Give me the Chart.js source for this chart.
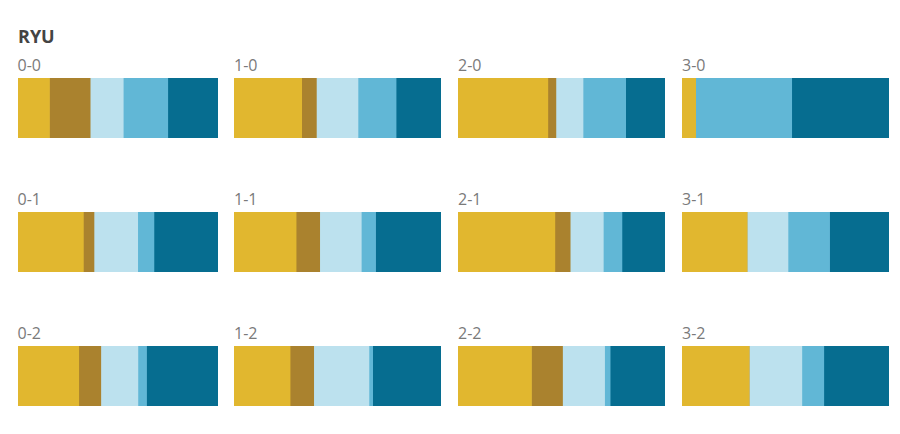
<!DOCTYPE html>
<html lang="en">
	<head>
		<meta charset="utf-8"/>
		<title>RYU</title>
		<script src="https://cdn.jsdelivr.net/npm/chart.js@4.4.0/dist/chart.umd.min.js"></script>
		<style>
			body {
				margin: 0;
				background-color: #ffffff;
				font-family: "Open Sans", sans-serif;
			}
			.main {
				position: relative;
				width: 900px;
				height: 434px;
			}
			.title {
				position: absolute;
				left: 18px;
				top: 24px;
				font-size: 18px;
				font-weight: bold;
				color: #444444;
			}
			.label {
				position: absolute;
				font-size: 16px;
				color: #7a7a7a;
			}
			.box {
				position: absolute;
				height: 60px;
			}
		</style>
	</head>

	<body>
		<div class="main" id="main">
			<div class="title">RYU</div>
		</div>

		<script>
			// panels in reading order (columns 0..3, rows 0..2)
			const panels = ['0-0', '1-0', '2-0', '3-0', '0-1', '1-1', '2-1', '3-1', '0-2', '1-2', '2-2', '3-2'];

			// share of each segment per panel (%)
			const seg1 = [15.7, 32.7, 43.4, 6.6, 32.6, 30.0, 46.8, 31.4, 30.3, 27.1, 35.5, 32.4];
			const seg2 = [20.3, 7.1, 3.9, 0, 5.3, 11.4, 7.4, 0, 11.0, 11.4, 15.0, 0];
			const seg3 = [16.5, 20.1, 13.1, 0, 21.8, 20.1, 16.0, 19.8, 18.5, 26.7, 20.3, 25.5];
			const seg4 = [22.2, 18.4, 20.6, 46.4, 8.1, 6.9, 9.0, 20.1, 4.3, 1.8, 2.7, 10.6];
			const seg5 = [25.3, 21.7, 19.0, 47.0, 32.2, 31.6, 20.8, 28.7, 35.9, 33.0, 26.5, 31.5];

			const series = [seg1, seg2, seg3, seg4, seg5];
			const colors = ['#E1B72F', '#AA822E', '#BCE1EE', '#61B7D6', '#066D90'];

			const colX = [17.5, 234, 458, 682];
			const colW = [200.5, 207, 207, 207];
			const rowY = [78, 212, 346];

			const main = document.getElementById('main');

			panels.forEach(function (name, i) {
				var col = i % 4, row = Math.floor(i / 4);

				var lab = document.createElement('div');
				lab.className = 'label';
				lab.style.left = colX[col] + 'px';
				lab.style.top = (rowY[row] - 24.5) + 'px';
				lab.innerText = name;
				main.appendChild(lab);

				var box = document.createElement('div');
				box.className = 'box';
				box.style.left = colX[col] + 'px';
				box.style.top = rowY[row] + 'px';
				box.style.width = colW[col] + 'px';
				var cv = document.createElement('canvas');
				box.appendChild(cv);
				main.appendChild(box);

				new Chart(cv.getContext('2d'), {
					type: 'bar',
					data: {
						labels: [name],
						datasets: series.map(function (s, k) {
							return {
								data: [s[i]],
								backgroundColor: colors[k],
								borderWidth: 0,
								barPercentage: 1,
								categoryPercentage: 1
							};
						})
					},
					options: {
						indexAxis: 'y',
						responsive: true,
						maintainAspectRatio: false,
						animation: false,
						layout: { padding: 0 },
						plugins: {
							legend: { display: false },
							tooltip: { enabled: false }
						},
						scales: {
							x: { stacked: true, min: 0, max: 100, display: false },
							y: { stacked: true, display: false }
						}
					}
				});
			});
		</script>
	</body>
</html>
